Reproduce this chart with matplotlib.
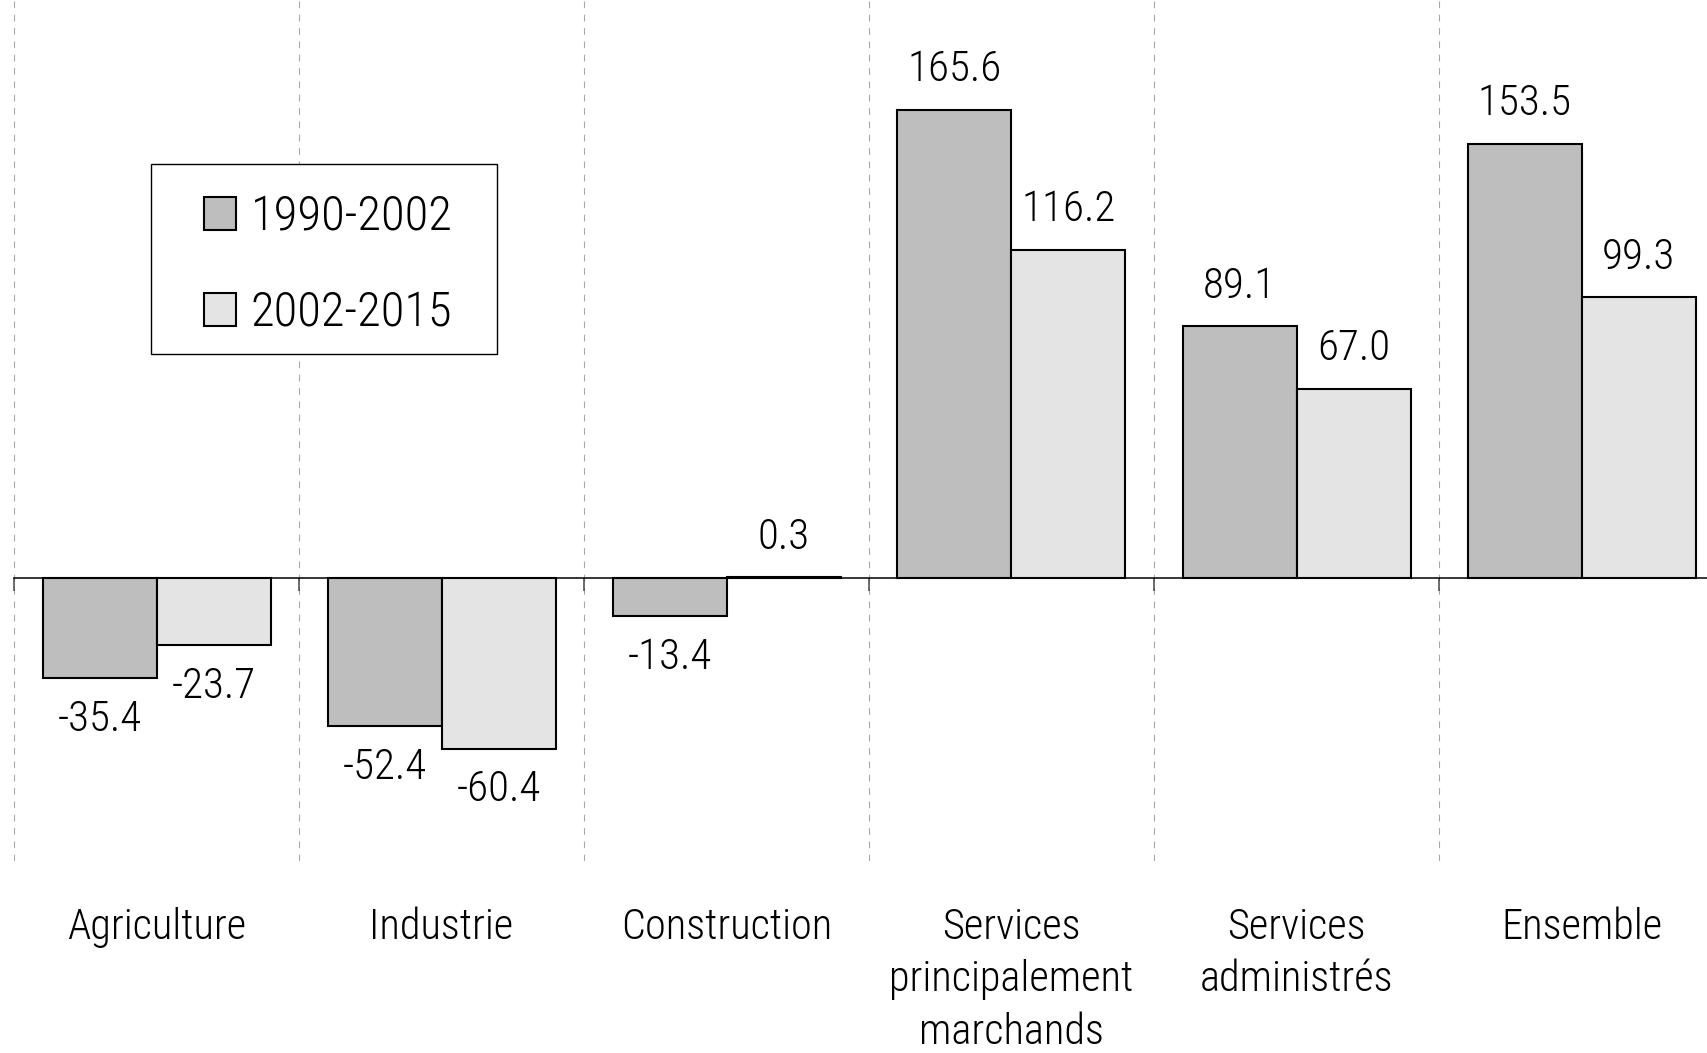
import numpy as np
import matplotlib
matplotlib.use('Agg')
import matplotlib.pyplot as plt
from matplotlib.patches import Rectangle

plt.rcParams['font.family'] = ['Roboto Condensed', 'DejaVu Sans']
plt.rcParams['font.weight'] = 'light'

categories = ['Agriculture', 'Industrie', 'Construction',
              'Services\nprincipalement\nmarchands', 'Services\nadministrés', 'Ensemble']
periods = ['1990-2002', '2002-2015']
v_1990_2002 = [-35.4, -52.4, -13.4, 165.6, 89.1, 153.5]
v_2002_2015 = [-23.7, -60.4, 0.3, 116.2, 67.0, 99.3]

colors = ['#bebebe', '#e4e4e4']

fig = plt.figure(figsize=(17.08, 10.53), dpi=100)
ax = fig.add_axes([14 / 1708, 192 / 1053, 1 - 14 / 1708, 1 - 192 / 1053])

x = np.arange(len(categories))
w = 0.4
series = [v_1990_2002, v_2002_2015]
for i, vals in enumerate(series):
    pos = x - w / 2 + i * w
    ax.bar(pos, vals, width=w, color=colors[i], edgecolor='black', linewidth=1.5,
           label=periods[i], zorder=3)
    for xp, v in zip(pos, vals):
        off = 29 if v >= 0 else -29.5
        ax.annotate('%.1f' % v, (xp, v), xytext=(0, off), textcoords='offset points',
                    ha='center', va='center', fontsize=31)

bounds = np.arange(-0.5, len(categories) + 0.5, 1.0)
for b in bounds:
    ax.axvline(b, color='#a8a8a8', lw=0.8, dashes=(6, 6), zorder=1)

for s in ['top', 'right', 'left']:
    ax.spines[s].set_visible(False)
ax.spines['bottom'].set_position(('data', 0))
ax.spines['bottom'].set_linewidth(1.1)
ax.spines['bottom'].set_zorder(4)
ax.set_yticks([])
ax.set_xticks(bounds)
ax.set_xticklabels([])
ax.tick_params(axis='x', direction='out', length=9.5, width=1.1, color='#444444')

ax.set_xlim(-0.5, -0.5 + (1708 - 14) / 285.0)
ax.set_ylim(-100, 204.5)

for xc, lab in zip(x, categories):
    ax.annotate(lab, (xc, -100), xytext=(0, -33), textcoords='offset points',
                ha='center', va='top', fontsize=30.5, linespacing=1.36,
                multialignment='center')

# legend box
ax.add_patch(Rectangle((151 / 1708, 1 - 354 / 1053), 346 / 1708, 190 / 1053,
                       transform=fig.transFigure, facecolor='white',
                       edgecolor='black', linewidth=1.0, zorder=5, clip_on=False))
leg = ax.legend(loc='center left', bbox_to_anchor=(204 / 1708, 1 - 265 / 1053),
                bbox_transform=fig.transFigure, frameon=False, fontsize=35,
                handlelength=0.66, handleheight=0.66, handletextpad=0.3,
                labelspacing=1.02, borderpad=0, borderaxespad=0)
leg.set_zorder(6)

fig.savefig('out.png', dpi=100)
